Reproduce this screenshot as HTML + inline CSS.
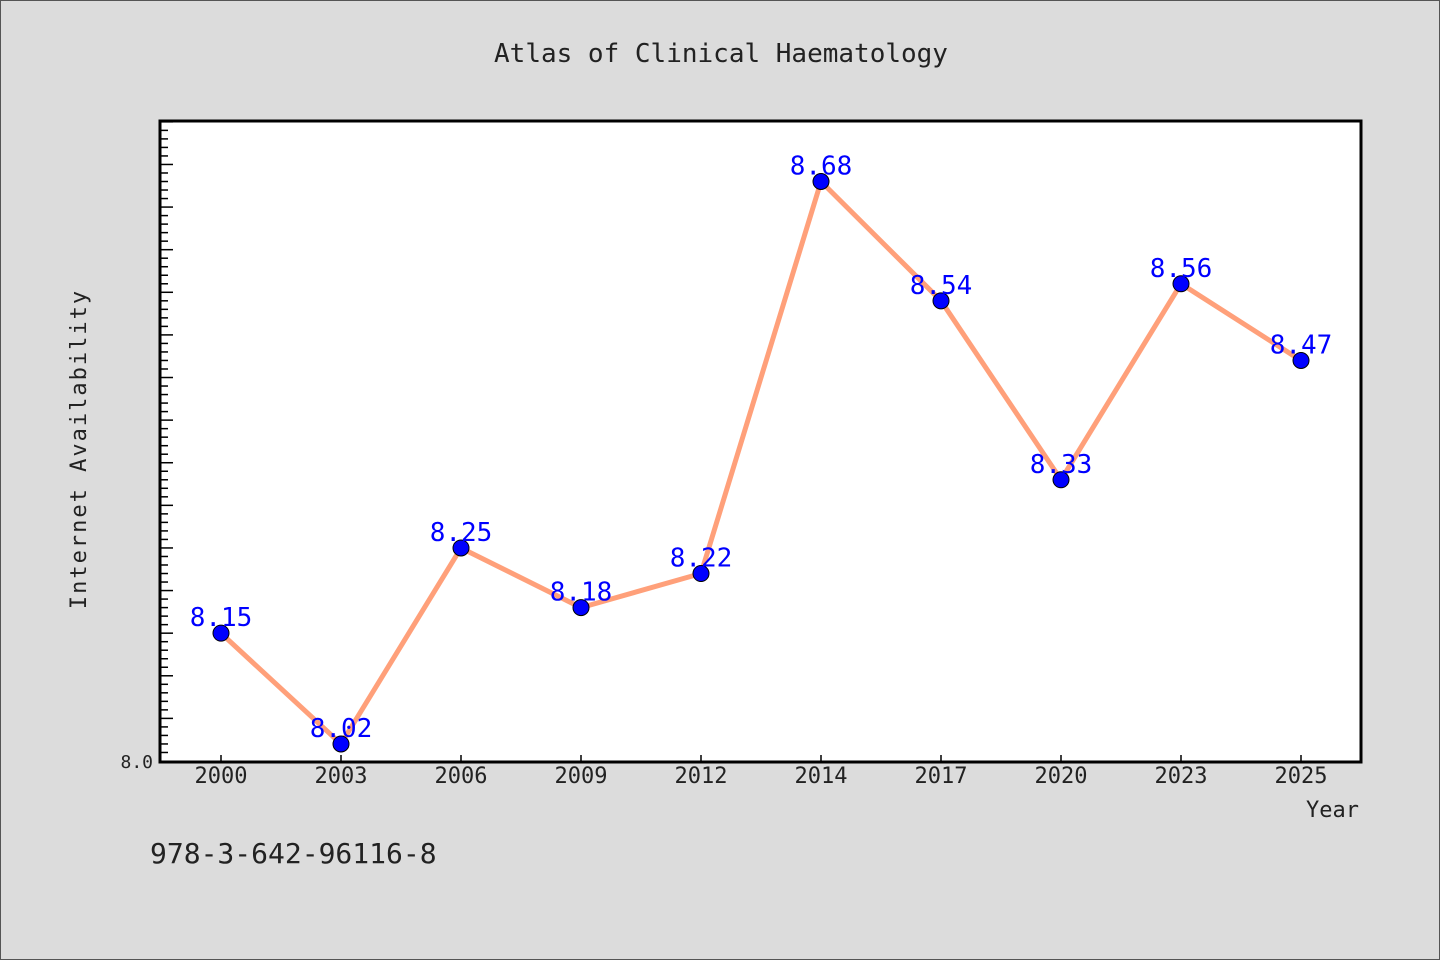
<!DOCTYPE html>
<html><head><meta charset="utf-8"><style>
body{margin:0;background:#dcdcdc;}
#wrap{position:relative;width:1438px;height:958px;border:1px solid #555;background:#dcdcdc;overflow:hidden;}
svg text{font-family:"DejaVu Sans Mono","Liberation Mono",monospace;}
</style></head><body>
<div id="wrap">
<svg id="c" width="1440" height="960">
<text x="720" y="61" text-anchor="middle" font-size="26" fill="#222">Atlas of Clinical Haematology</text>
<rect x="159" y="120" width="1201" height="641" fill="#fff"/>
<g id="ticks"></g>
<g id="series"></g>
<rect x="159" y="120" width="1201" height="641" fill="none" stroke="#000" stroke-width="3"/>
<text x="85" y="448" transform="rotate(-90 85 448)" text-anchor="middle" font-size="22" fill="#222" letter-spacing="2">Internet Availability</text>
<text x="1358" y="816" text-anchor="end" font-size="22" fill="#222">Year</text>
<text x="149" y="862" font-size="28" fill="#222" font-family="Liberation Sans, sans-serif">978-3-642-96116-8</text>
</svg></div>
<script>
const categories=["2000","2003","2006","2009","2012","2014","2017","2020","2023","2025"];
const values=[8.15,8.02,8.25,8.18,8.22,8.68,8.54,8.33,8.56,8.47];
const yMin=8.0,yMax=8.751;
const NS="http://www.w3.org/2000/svg";
const X0=159,X1=1360,Y0=760,Y1=120;
function xs(i){return 220+i*120;}
function ys(v){return Y0-(v-yMin)/(yMax-yMin)*(Y0-Y1);}
function mk(t,a,p){const e=document.createElementNS(NS,t);for(const k in a)e.setAttribute(k,a[k]);p.appendChild(e);return e;}
const tg=document.getElementById('ticks');
for(let k=1;k<=75;k++){const v=yMin+k*0.01;if(v>yMax)break;const y=ys(v);const major=k%5==0;
const l=mk('line',{x1:X0,x2:X0+(major?13:8),y1:y,y2:y,stroke:'#000','stroke-width':1.5},tg);

}
const yl=mk('text',{x:152,y:767,'text-anchor':'end','font-size':18,fill:'#222'},tg);yl.textContent="8.0";


categories.forEach((c,i)=>{const x=xs(i);
const l=mk('line',{x1:x,x2:x,y1:Y0,y2:Y0-6,stroke:'#000','stroke-width':1.5},tg);


const t=mk('text',{x:x,y:782,'text-anchor':'middle','font-size':22,fill:'#222','font-family':'Liberation Sans, sans-serif'},tg);t.textContent=c;

});
const sg=document.getElementById('series');
const pl=mk('polyline',{points:values.map((v,i)=>xs(i)+','+ys(v)).join(' '),fill:'none',stroke:'#ffa07a','stroke-width':5,'stroke-linejoin':'round'},sg);


values.forEach((v,i)=>{
const c=mk('circle',{cx:xs(i),cy:ys(v),r:8,fill:'#0000ff',stroke:'#000','stroke-width':1},sg);


const t=mk('text',{x:xs(i),y:ys(v)-7,'text-anchor':'middle','font-size':26,fill:'#0000ff','font-family':'Liberation Sans, sans-serif'},sg);t.textContent=v.toFixed(2);

});
</script>
</body></html>
